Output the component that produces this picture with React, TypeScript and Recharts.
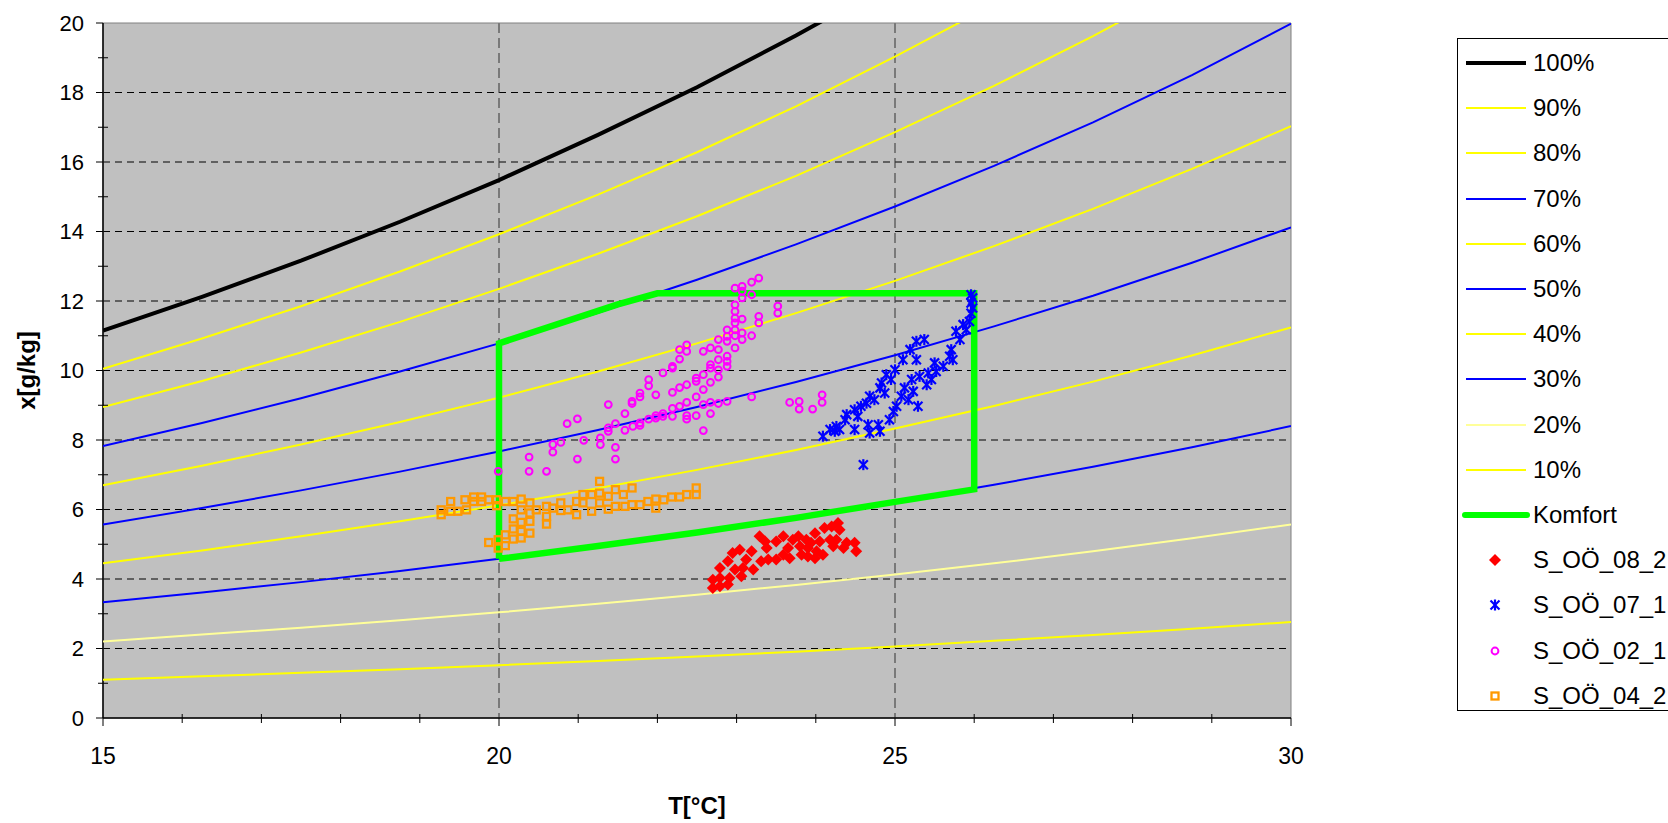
import {
  ScatterChart,
  Scatter,
  XAxis,
  YAxis,
  CartesianGrid,
  ReferenceArea,
  Legend,
  Label,
} from "recharts";

// temperature steps of the humidity curves
const tGrid = [15, 16.25, 17.5, 18.75, 20, 21.25, 22.5, 23.75, 25, 26.25, 27.5, 28.75, 30];

const rh100 = [11.15, 12.12, 13.16, 14.28, 15.48, 16.78, 18.15, 19.64, 21.22, 22.91, 24.73, 26.67, 28.76];
const rh90 = [10.05, 10.92, 11.85, 12.85, 13.92, 15.06, 16.28, 17.6, 19.03, 20.54, 22.16, 23.9, 25.76];
const rh80 = [8.95, 9.7, 10.52, 11.4, 12.35, 13.36, 14.44, 15.6, 16.86, 18.19, 19.62, 21.16, 22.8];
const rh70 = [7.83, 8.49, 9.2, 9.97, 10.78, 11.66, 12.61, 13.63, 14.72, 15.89, 17.14, 18.5, 19.98];
const rh60 = [6.7, 7.26, 7.87, 8.52, 9.22, 9.97, 10.78, 11.65, 12.58, 13.58, 14.65, 15.8, 17.03];
const rh50 = [5.57, 6.04, 6.55, 7.09, 7.67, 8.29, 8.95, 9.67, 10.44, 11.27, 12.15, 13.1, 14.12];
const rh40 = [4.45, 4.82, 5.23, 5.66, 6.12, 6.61, 7.14, 7.71, 8.33, 8.98, 9.68, 10.43, 11.24];
const rh30 = [3.33, 3.61, 3.91, 4.23, 4.58, 4.95, 5.34, 5.76, 6.22, 6.71, 7.23, 7.79, 8.4];
const rh20 = [2.2, 2.4, 2.6, 2.81, 3.04, 3.29, 3.55, 3.83, 4.13, 4.45, 4.8, 5.17, 5.57];
const rh10 = [1.1, 1.2, 1.3, 1.4, 1.52, 1.64, 1.77, 1.91, 2.06, 2.22, 2.39, 2.57, 2.76];

// comfort zone outline
const komfortT = [20, 20, 21.5, 22, 26, 26, 25, 23.75, 22.5, 21.25, 20];
const komfortX = [4.58, 10.78, 11.9, 12.22, 12.22, 6.58, 6.22, 5.76, 5.34, 4.95, 4.58];

// measurements [T, x]
const s08: number[][] = [
  [22.7, 3.74], [22.7, 3.98], [22.79, 3.79], [22.79, 4.03], [22.89, 3.84], [22.91, 4.03],
  [22.79, 4.32], [22.89, 4.51], [22.95, 4.75], [22.98, 4.27], [23.06, 4.08], [23.04, 4.84],
  [23.08, 4.32], [23.12, 4.56], [23.19, 4.8], [23.21, 4.27], [23.29, 5.23], [23.31, 4.51],
  [23.36, 5.08], [23.38, 4.89], [23.4, 4.56], [23.5, 5.08], [23.5, 4.56], [23.59, 5.23],
  [23.59, 4.7], [23.65, 4.89], [23.67, 4.6], [23.71, 5.13], [23.78, 5.23], [23.8, 4.94],
  [23.82, 4.7], [23.88, 5.13], [23.9, 4.89], [23.9, 4.65], [23.94, 5.04], [23.99, 5.32],
  [24.01, 4.8], [23.99, 4.6], [24.05, 5.08], [24.09, 4.7], [24.11, 5.47], [24.18, 5.13],
  [24.2, 5.51], [24.22, 4.94], [24.28, 5.61], [24.3, 5.42], [24.26, 5.13], [24.39, 5.04],
  [24.49, 5.04], [24.51, 4.8], [24.35, 4.89],
];

const s07: number[][] = [
  [24.09, 8.11], [24.18, 8.3], [24.24, 8.25], [24.26, 8.39], [24.3, 8.3], [24.37, 8.58],
  [24.39, 8.73], [24.49, 8.3], [24.49, 8.87], [24.53, 8.68], [24.57, 8.97], [24.6, 7.29],
  [24.64, 9.06], [24.66, 8.44], [24.68, 8.2], [24.68, 9.26], [24.74, 9.16], [24.79, 8.44],
  [24.81, 8.25], [24.81, 9.5], [24.83, 9.64], [24.87, 9.35], [24.89, 9.88], [24.93, 8.58],
  [24.95, 9.74], [24.98, 8.82], [25.0, 10.02], [25.02, 8.97], [25.08, 9.26], [25.1, 10.31],
  [25.12, 9.5], [25.17, 9.16], [25.19, 10.6], [25.21, 9.74], [25.23, 9.4], [25.27, 10.84],
  [25.27, 10.31], [25.29, 8.97], [25.31, 9.83], [25.37, 10.89], [25.4, 9.59], [25.42, 9.93],
  [25.46, 9.74], [25.5, 10.22], [25.52, 9.97], [25.61, 10.12], [25.69, 10.41], [25.71, 10.6],
  [25.73, 10.31], [25.77, 11.13], [25.82, 10.89], [25.86, 11.32], [25.9, 11.17], [25.94, 11.41],
  [25.96, 11.65], [25.96, 11.94], [25.96, 12.18], [25.98, 11.8], [25.98, 12.09],
];

const s02: number[][] = [
  [19.99, 7.1], [20.38, 7.51], [20.38, 7.1], [20.6, 7.1], [20.68, 7.87], [20.68, 7.65],
  [20.78, 7.93], [20.86, 8.47], [20.99, 8.61], [20.99, 7.45], [21.07, 7.99], [21.28, 8.06],
  [21.28, 7.87], [21.38, 9.02], [21.38, 8.35], [21.38, 8.25], [21.47, 8.47], [21.47, 7.79],
  [21.47, 7.45], [21.59, 8.76], [21.59, 8.28], [21.68, 9.11], [21.68, 9.05], [21.69, 8.39],
  [21.78, 9.35], [21.78, 9.24], [21.78, 8.49], [21.78, 8.42], [21.89, 9.74], [21.89, 9.56],
  [21.89, 8.6], [21.98, 9.3], [21.98, 8.7], [21.98, 8.63], [22.07, 9.93], [22.07, 8.76],
  [22.07, 8.68], [22.19, 10.12], [22.19, 10.07], [22.19, 9.37], [22.19, 8.91], [22.19, 8.68],
  [22.28, 10.6], [22.28, 10.33], [22.28, 9.51], [22.28, 8.97], [22.37, 10.74], [22.37, 10.55],
  [22.37, 9.59], [22.37, 9.08], [22.37, 8.7], [22.37, 8.6], [22.49, 9.78], [22.49, 9.69],
  [22.49, 9.24], [22.49, 8.7], [22.58, 10.55], [22.58, 9.88], [22.58, 9.45], [22.58, 9.02],
  [22.58, 8.27], [22.67, 10.65], [22.67, 10.17], [22.67, 10.07], [22.67, 9.66], [22.67, 9.08],
  [22.67, 8.76], [22.77, 10.89], [22.77, 10.6], [22.77, 10.31], [22.77, 10.02], [22.77, 9.81],
  [22.77, 9.05], [22.88, 11.17], [22.88, 10.98], [22.88, 10.84], [22.88, 10.41], [22.88, 10.26],
  [22.88, 10.12], [22.88, 9.11], [22.98, 12.37], [22.98, 11.89], [22.98, 11.7], [22.98, 11.51],
  [22.98, 11.37], [22.98, 11.17], [22.98, 11.0], [22.98, 10.65], [23.07, 12.42], [23.07, 12.28],
  [23.07, 12.09], [23.07, 11.48], [23.07, 11.08], [23.07, 10.89], [23.19, 12.54], [23.19, 12.18],
  [23.19, 11.0], [23.19, 9.24], [23.28, 12.66], [23.28, 11.56], [23.28, 11.37], [23.52, 11.85],
  [23.52, 11.65], [23.67, 9.08], [23.79, 9.11], [23.79, 8.89], [23.96, 8.89], [24.08, 9.3],
  [24.08, 9.08],
];

const s04: number[][] = [
  [19.27, 5.99], [19.27, 5.85], [19.39, 6.23], [19.39, 5.95], [19.48, 5.95], [19.57, 6.28],
  [19.59, 5.99], [19.68, 6.36], [19.68, 6.23], [19.78, 6.36], [19.78, 6.23], [19.87, 6.28],
  [19.87, 5.05], [19.97, 6.28], [19.97, 6.11], [19.99, 5.13], [19.99, 4.89], [20.08, 6.23],
  [20.08, 5.27], [20.08, 4.96], [20.18, 6.23], [20.18, 5.73], [20.18, 5.44], [20.18, 5.15],
  [20.28, 6.3], [20.28, 5.99], [20.28, 5.63], [20.28, 5.37], [20.28, 5.18], [20.39, 6.19],
  [20.39, 5.9], [20.39, 5.66], [20.39, 5.32], [20.47, 5.99], [20.6, 6.09], [20.6, 5.8],
  [20.6, 5.58], [20.68, 6.04], [20.78, 6.19], [20.78, 5.97], [20.87, 5.99], [20.98, 6.23],
  [20.98, 5.85], [21.06, 6.43], [21.06, 6.19], [21.17, 6.43], [21.17, 5.95], [21.27, 6.81],
  [21.27, 6.47], [21.27, 6.19], [21.38, 6.38], [21.38, 6.01], [21.47, 6.57], [21.47, 6.09],
  [21.57, 6.43], [21.59, 6.09], [21.68, 6.62], [21.68, 6.14], [21.78, 6.14], [21.88, 6.23],
  [21.98, 6.3], [21.98, 6.04], [22.08, 6.28], [22.18, 6.36], [22.28, 6.36], [22.37, 6.43],
  [22.49, 6.62], [22.49, 6.43],
];

const xTicks = [15, 16, 17, 18, 19, 20, 21, 22, 23, 24, 25, 26, 27, 28, 29, 30];
const yTicks = [0, 1, 2, 3, 4, 5, 6, 7, 8, 9, 10, 11, 12, 13, 14, 15, 16, 17, 18, 19, 20];
const gridX = [20, 25];
const gridY = [2, 4, 6, 8, 10, 12, 14, 16, 18];

const FONT = '"Liberation Sans", Arial, sans-serif';

const curves = [
  { name: "100%", values: rh100, color: "#000000", width: 4 },
  { name: "90%", values: rh90, color: "#FFFF00", width: 2 },
  { name: "80%", values: rh80, color: "#FFFF00", width: 2 },
  { name: "70%", values: rh70, color: "#0000FF", width: 2 },
  { name: "60%", values: rh60, color: "#FFFF00", width: 2 },
  { name: "50%", values: rh50, color: "#0000FF", width: 2 },
  { name: "40%", values: rh40, color: "#FFFF00", width: 2 },
  { name: "30%", values: rh30, color: "#0000FF", width: 2 },
  { name: "20%", values: rh20, color: "#FFFF99", width: 2 },
  { name: "10%", values: rh10, color: "#FFFF00", width: 2 },
];

const toPts = (ts: number[], xs: number[]) => ts.map((t, i) => ({ t, x: xs[i] }));
const pairs = (arr: number[][]) => arr.map(([t, x]) => ({ t, x }));

const noDot = () => <g />;

const Diamond = ({ cx, cy }: any) => (
  <polygon
    points={`${cx},${cy - 6} ${cx + 6},${cy} ${cx},${cy + 6} ${cx - 6},${cy}`}
    fill="#FF0000"
  />
);
const Star = ({ cx, cy }: any) => (
  <g stroke="#0000FF" strokeWidth={2.2}>
    <line x1={cx - 4.5} y1={cy - 4.5} x2={cx + 4.5} y2={cy + 4.5} />
    <line x1={cx - 4.5} y1={cy + 4.5} x2={cx + 4.5} y2={cy - 4.5} />
    <line x1={cx} y1={cy - 5.5} x2={cx} y2={cy + 5.5} />
  </g>
);
const Ring = ({ cx, cy }: any) => (
  <circle cx={cx} cy={cy} r={3.4} fill="none" stroke="#FF00FF" strokeWidth={2} />
);
const Square = ({ cx, cy }: any) => (
  <rect x={cx - 3.5} y={cy - 3.5} width={7} height={7} fill="none" stroke="#FF9900" strokeWidth={2.3} />
);

const XTick = ({ x, y, payload }: any) => {
  const v = payload.value;
  if (v % 5 === 0) {
    return (
      <g>
        <line x1={x} y1={y} x2={x} y2={y + 8} stroke="#000" />
        <text x={x} y={y + 46} textAnchor="middle" fontSize={23} fontFamily={FONT} fill="#000">
          {v}
        </text>
      </g>
    );
  }
  return <line x1={x} y1={y - 4} x2={x} y2={y + 5} stroke="#000" />;
};

const YTick = ({ x, y, payload }: any) => {
  const v = payload.value;
  if (v % 2 === 0) {
    return (
      <g>
        <line x1={x - 7} y1={y} x2={x} y2={y} stroke="#000" />
        <text x={x - 19} y={y} dy="0.35em" textAnchor="end" fontSize={22} fontFamily={FONT} fill="#000">
          {v}
        </text>
      </g>
    );
  }
  return <line x1={x - 5} y1={y} x2={x + 5} y2={y} stroke="#000" />;
};

const legendItems = [
  ...curves.map((c) => ({ name: c.name, kind: "line", color: c.color, width: c.width })),
  { name: "Komfort", kind: "line", color: "#00FF00", width: 7 },
  { name: "S_OÖ_08_2", kind: "diamond", color: "#FF0000", width: 0 },
  { name: "S_OÖ_07_1", kind: "star", color: "#0000FF", width: 0 },
  { name: "S_OÖ_02_1", kind: "ring", color: "#FF00FF", width: 0 },
  { name: "S_OÖ_04_2", kind: "square", color: "#FF9900", width: 0 },
];

const LegendBox = () => (
  <div
    style={{
      border: "1px solid #000",
      background: "#fff",
      width: 260,
      height: 673,
      paddingTop: 1.5,
      boxSizing: "border-box",
      fontFamily: FONT,
      fontSize: 24,
      color: "#000",
    }}
  >
    {legendItems.map((it) => (
      <div key={it.name} style={{ display: "flex", alignItems: "center", height: 45.2, whiteSpace: "nowrap" }}>
        <svg width={75} height={20} style={{ flex: "none" }}>
          {it.kind === "line" && (
            <line
              x1={it.width > 5 ? 7 : 8}
              y1={10}
              x2={it.width > 5 ? 69 : 68}
              y2={10}
              stroke={it.color}
              strokeWidth={it.width > 5 ? 6 : it.width}
              strokeLinecap={it.width > 5 ? "round" : "butt"}
            />
          )}
          {it.kind === "diamond" && <Diamond cx={37} cy={10} />}
          {it.kind === "star" && <Star cx={37} cy={10} />}
          {it.kind === "ring" && <Ring cx={37} cy={10} />}
          {it.kind === "square" && <Square cx={37} cy={10} />}
        </svg>
        <span>{it.name}</span>
      </div>
    ))}
  </div>
);

export default function App() {
  return (
    <div
      style={{
        position: "absolute",
        left: 0,
        top: 0,
        width: 1668,
        height: 823,
        overflow: "hidden",
        background: "#fff",
      }}
    >
      <ScatterChart width={1668} height={823} margin={{ top: 23, right: 377, bottom: 0, left: 0 }}>
        <CartesianGrid
          fill="#C0C0C0"
          fillOpacity={1}
          stroke="#000"
          strokeDasharray="7 5"
          vertical={false}
          horizontalValues={gridY}
        />
        <CartesianGrid
          stroke="#333"
          strokeDasharray="10 5"
          horizontal={false}
          verticalValues={gridX}
        />
        <ReferenceArea x1={15} x2={30} y1={0} y2={20} fill="none" stroke="#808080" />
        <XAxis
          type="number"
          dataKey="t"
          domain={[15, 30]}
          allowDataOverflow
          ticks={xTicks}
          interval={0}
          height={105}
          tickSize={0}
          tickMargin={0}
          tick={<XTick />}
          axisLine={{ stroke: "#000", strokeWidth: 1.5 }}
          tickLine={false}
        >
          <Label
            value="T[°C]"
            position="insideBottom"
            offset={9}
            style={{ fontFamily: FONT, fontSize: 24, fontWeight: "bold", fill: "#000" }}
          />
        </XAxis>
        <YAxis
          type="number"
          dataKey="x"
          domain={[0, 20]}
          allowDataOverflow
          ticks={yTicks}
          interval={0}
          width={103}
          tickSize={0}
          tickMargin={0}
          tick={<YTick />}
          axisLine={{ stroke: "#000", strokeWidth: 1.5 }}
          tickLine={false}
        >
          <Label
            value="x[g/kg]"
            position="insideLeft"
            angle={-90}
            offset={26}
            style={{ fontFamily: FONT, fontSize: 24, fontWeight: "bold", fill: "#000", textAnchor: "middle" }}
          />
        </YAxis>
        {curves.map((c) => (
          <Scatter
            key={c.name}
            name={c.name}
            data={toPts(tGrid, c.values)}
            line={{ stroke: c.color, strokeWidth: c.width }}
            shape={noDot}
            isAnimationActive={false}
          />
        ))}
        <Scatter
          name="Komfort"
          data={toPts(komfortT, komfortX)}
          line={{ stroke: "#00FF00", strokeWidth: 6.5 }}
          shape={noDot}
          isAnimationActive={false}
        />
        <Scatter name="S_OÖ_08_2" data={pairs(s08)} shape={Diamond} isAnimationActive={false} />
        <Scatter name="S_OÖ_07_1" data={pairs(s07)} shape={Star} isAnimationActive={false} />
        <Scatter name="S_OÖ_02_1" data={pairs(s02)} shape={Ring} isAnimationActive={false} />
        <Scatter name="S_OÖ_04_2" data={pairs(s04)} shape={Square} isAnimationActive={false} />
        <Legend
          layout="vertical"
          align="center"
          verticalAlign="middle"
          content={() => <LegendBox />}
          wrapperStyle={{ left: 1457, top: 38, width: 260, height: 673 }}
        />
      </ScatterChart>
    </div>
  );
}
